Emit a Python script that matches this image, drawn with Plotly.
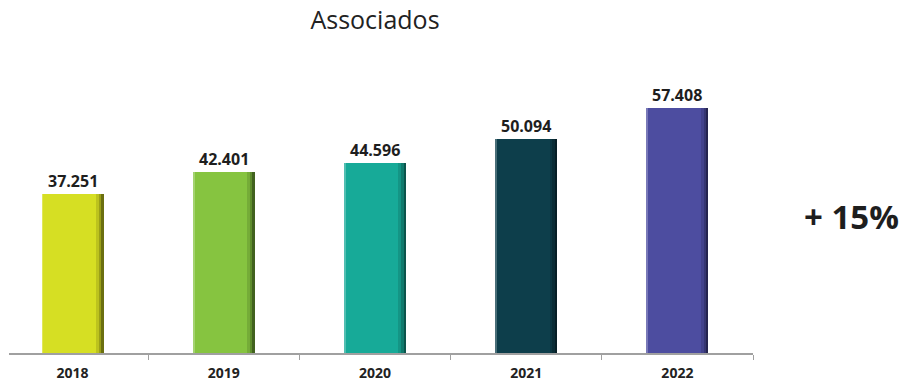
import plotly.graph_objects as go

# Number of associates per year
years = ["2018", "2019", "2020", "2021", "2022"]
associados = [37251, 42401, 44596, 50094, 57408]
bar_colors = ["#d6df23", "#86c440", "#17aa98", "#0d3e4b", "#4d4da0"]
growth_label = "+ 15%"

pos = list(range(len(years)))
bar_w = 0.41
font_family = "Open Sans, Segoe UI, sans-serif"

fig = go.Figure()

# main bars
fig.add_trace(go.Bar(
    x=pos, y=associados, width=bar_w,
    marker=dict(color=bar_colors, line=dict(width=0)),
    hoverinfo="skip",
))

# bevel shading along the right edge of each bar (soft gradient)
for w, op in [(0.05, 0.12), (0.032, 0.18), (0.016, 0.3)]:
    fig.add_trace(go.Bar(
        x=[p + bar_w / 2 - w / 2 for p in pos], y=associados, width=w,
        marker=dict(color="black", opacity=op, line=dict(width=0)),
        hoverinfo="skip",
    ))
# thin highlight along the left edge
fig.add_trace(go.Bar(
    x=[p - bar_w / 2 + 0.006 for p in pos], y=associados, width=0.012,
    marker=dict(color="white", opacity=0.25, line=dict(width=0)),
    hoverinfo="skip",
))

x_range = [-0.42, 4.5]

# value labels above each bar
value_labels = [
    dict(
        x=p, y=v, xref="x", yref="y", text="<b>" + f"{v:,}".replace(",", ".") + "</b>",
        yanchor="bottom", xanchor="center", yshift=0, showarrow=False,
        font=dict(family=font_family, size=16, color="#1e1e1e"),
    )
    for p, v in zip(pos, associados)
]

fig.update_layout(
    width=902, height=384,
    margin=dict(l=9, r=149, t=97, b=31),
    paper_bgcolor="white", plot_bgcolor="white",
    showlegend=False, barmode="overlay", bargap=0,
    title=dict(
        text="Associados", x=375 / 902, y=1 - 20 / 384,
        xanchor="center", yanchor="middle",
        font=dict(family=font_family, size=25, color="#222222"),
    ),
    xaxis=dict(
        range=x_range, tickvals=pos, ticktext=[f"<b>{y}</b>" for y in years],
        tickfont=dict(family=font_family, size=14, color="#222222"),
        ticks="", showline=False, showgrid=False, zeroline=False,
        ticklabelstandoff=10, automargin=False,
    ),
    xaxis2=dict(
        range=x_range, overlaying="x", matches="x", side="bottom",
        tickvals=[p + 0.5 for p in pos], showticklabels=False,
        ticks="outside", ticklen=5, tickwidth=1, tickcolor="#a0a0a0",
        showline=True, linecolor="#a0a0a0", linewidth=1.5,
        showgrid=False, zeroline=False, automargin=False,
    ),
    yaxis=dict(range=[0, 60000], visible=False),
    annotations=value_labels + [dict(
        text=f"<b>{growth_label}</b>", xref="paper", yref="paper",
        x=(851 - 9) / 744, y=(353 - 216) / 256,
        xanchor="center", yanchor="middle", showarrow=False,
        font=dict(family=font_family, size=33, color="#1e1e1e"),
    )],
)

# an invisible trace to activate the secondary x axis (boundary ticks and baseline)
fig.add_trace(go.Scatter(x=[pos[0]], y=[0], xaxis="x2", mode="markers",
                         marker=dict(opacity=0), hoverinfo="skip"))

fig.write_html("out.html")
